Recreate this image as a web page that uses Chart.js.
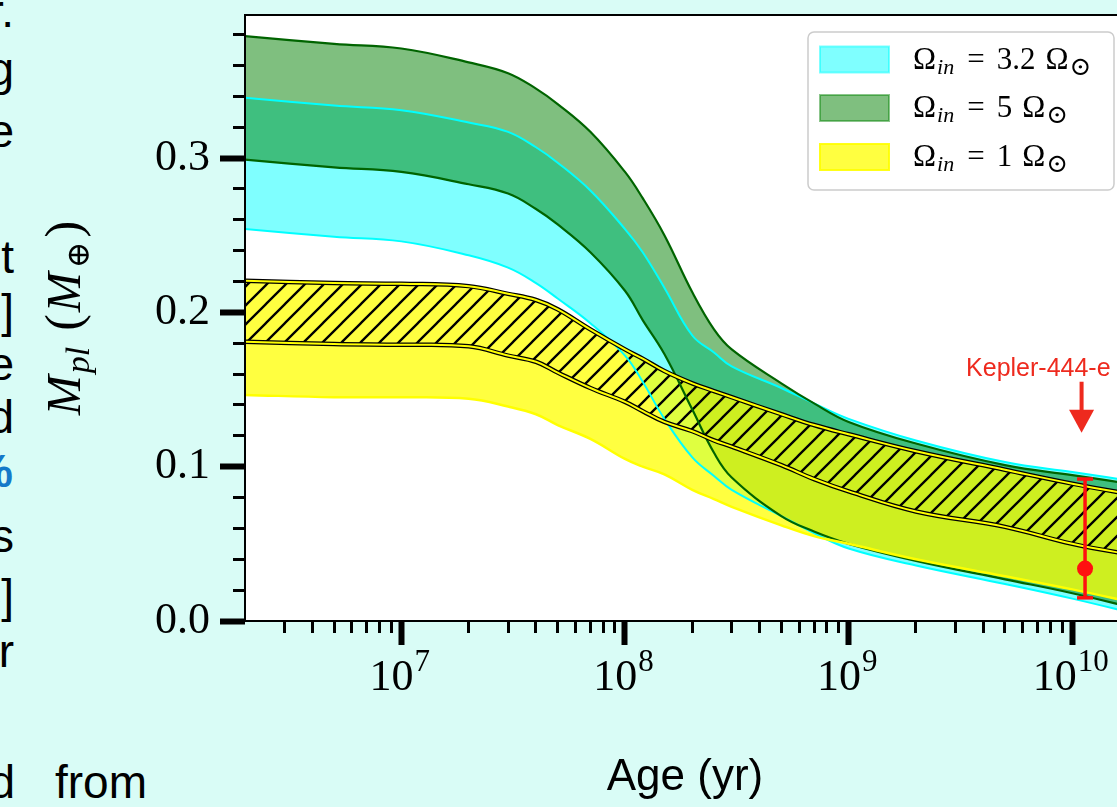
<!DOCTYPE html>
<html>
<head>
<meta charset="utf-8">
<script src="https://cdn.jsdelivr.net/npm/chart.js@4.4.1/dist/chart.umd.min.js"></script>
<style>
  html, body { margin: 0; padding: 0; background: #d9fcf6; overflow: hidden; width: 1117px; height: 807px; }
  #moldura { position: absolute; left: 0; top: 0; width: 1180px; height: 807px; }
  .frag { position: absolute; font-family: "Liberation Sans", Arial, sans-serif; font-size: 46px; line-height: 46px; white-space: pre; color: #000; transform: translateX(-100%); }
  .azul { color: #1479c9; font-weight: bold; }
</style>
</head>
<body>
<div class="frag" style="left:14px; top:-12px">r.</div>
<div class="frag" style="left:14px; top:46px">g</div>
<div class="frag" style="left:14px; top:108px">e</div>
<div class="frag" style="left:14px; top:234px">t</div>
<div class="frag" style="left:14px; top:288px">5]</div>
<div class="frag" style="left:14px; top:341px">e</div>
<div class="frag" style="left:14px; top:394px">d</div>
<div class="frag azul" style="left:13px; top:448px">%</div>
<div class="frag" style="left:14px; top:513px">s</div>
<div class="frag" style="left:14px; top:573px">5]</div>
<div class="frag" style="left:14px; top:628px">r</div>
<div class="frag" style="left:15px; top:759px">d</div>
<div class="frag" style="left:55px; top:759px; transform:none">from</div>

<div id="moldura"><canvas id="chartMassa" width="1180" height="807"></canvas></div>

<script>
// ============================
// DADOS
// ============================

// idades (anos) onde as curvas foram lidas
var idades = [2e6, 5e6, 1e7, 2e7, 3e7, 4e7, 5e7, 7e7, 1e8, 1.2e8, 1.5e8, 2e8, 2.5e8, 3e8, 5e8, 7e8, 1e9, 2e9, 5e9, 1e10, 2e10];

// Omega_in = 3.2 (ciano)
var cianoSup = [0.339, 0.334, 0.331, 0.323, 0.317, 0.307, 0.297, 0.279, 0.254, 0.239, 0.216, 0.185, 0.174, 0.165, 0.151, 0.141, 0.131, 0.117, 0.103, 0.0965, 0.090];
var cianoInf = [0.254, 0.249, 0.246, 0.237, 0.229, 0.219, 0.209, 0.193, 0.172, 0.155, 0.131, 0.106, 0.094, 0.085, 0.068, 0.057, 0.047, 0.036, 0.024, 0.0145, 0.004];

// Omega_in = 5 (verde)
var verdeSup = [0.379, 0.374, 0.371, 0.362, 0.355, 0.345, 0.335, 0.317, 0.291, 0.274, 0.250, 0.213, 0.189, 0.176, 0.154, 0.141, 0.129, 0.115, 0.101, 0.0945, 0.088];
var verdeInf = [0.299, 0.294, 0.291, 0.283, 0.277, 0.267, 0.257, 0.239, 0.214, 0.195, 0.173, 0.137, 0.109, 0.093, 0.068, 0.058, 0.050, 0.039, 0.027, 0.018, 0.0075];

// Omega_in = 1 (amarelo) e faixa hachurada
var amareloSup = [0.2205, 0.219, 0.2185, 0.217, 0.212, 0.208, 0.202, 0.189, 0.176, 0.170, 0.162, 0.154, 0.149, 0.145, 0.134, 0.127, 0.121, 0.110, 0.098, 0.089, 0.081];
var hachuraInf = [0.181, 0.1795, 0.179, 0.178, 0.172, 0.168, 0.161, 0.151, 0.142, 0.136, 0.129, 0.123, 0.117, 0.113, 0.101, 0.092, 0.084, 0.071, 0.061, 0.050, 0.042];
var amareloInf = [0.1465, 0.145, 0.145, 0.144, 0.139, 0.134, 0.127, 0.118, 0.105, 0.100, 0.095, 0.085, 0.079, 0.074, 0.062, 0.055, 0.050, 0.040, 0.029, 0.0205, 0.011];

// Kepler-444-e
var kepIdade = [1.14e10];
var kepMassa = [0.034];
var kepErroInf = [0.015];
var kepErroSup = [0.092];
var kepSeta = { idade: 1.1e10, massa: 0.122, rotulo: 'Kepler-444-e' };

// eixos
var xMin = 2e6, xMax = 1.72e10;
var yMin = 0, yMax = 0.3927;
var xTicksMaiores = [1e7, 1e8, 1e9, 1e10];
var xExpoentes = ['7', '8', '9', '10'];
var yTicksMaiores = [0, 0.1, 0.2, 0.3];
var yRotulos = ['0.0', '0.1', '0.2', '0.3'];
var legendaValores = ['3.2', '5', '1'];

document.addEventListener('DOMContentLoaded', function () {

    var ctxMassa = document.getElementById('chartMassa');
    var ctx2d = ctxMassa.getContext('2d');

    // ticks menores (2..9 x 10^n)
    var xTicksMenores = [];
    for (var d = 6; d <= 10; d++) {
        for (var m = 2; m <= 9; m++) {
            var v = m * Math.pow(10, d);
            if (v > xMin && v < xMax) xTicksMenores.push(v);
        }
    }
    var yTicksMenores = [];
    for (var k = 1; k < 20; k++) {
        if (k % 5 !== 0) yTicksMenores.push(k * 0.02);
    }

    function serie(valores) {
        return idades.map(function (a, i) { return { x: a, y: valores[i] }; });
    }

    // hachura "//"
    function criaHachura() {
        var tam = 19;
        var c = document.createElement('canvas');
        c.width = tam; c.height = tam;
        var g = c.getContext('2d');
        g.strokeStyle = '#000';
        g.lineWidth = 2.3;
        g.beginPath();
        g.moveTo(0, tam); g.lineTo(tam, 0);
        g.moveTo(-tam / 2, tam / 2); g.lineTo(tam / 2, -tam / 2);
        g.moveTo(tam / 2, tam * 1.5); g.lineTo(tam * 1.5, tam / 2);
        g.stroke();
        return ctx2d.createPattern(c, 'repeat');
    }

    function linha(valores, cor, largura, ordem, preenche, fundo) {
        return {
            data: serie(valores),
            borderColor: cor,
            borderWidth: largura,
            backgroundColor: fundo || 'transparent',
            fill: preenche ? '+1' : false,
            pointRadius: 0,
            tension: 0.4,
            order: ordem
        };
    }

    function desenhaSequencia(ctx, x, y, partes) {
        partes.forEach(function (p) {
            x += (p.dx || 0);
            ctx.font = p.f;
            ctx.fillText(p.t, x, y + (p.dy || 0));
            x += ctx.measureText(p.t).width;
        });
        return x;
    }

    function larguraSequencia(ctx, partes) {
        var w = 0;
        partes.forEach(function (p) {
            ctx.font = p.f;
            w += (p.dx || 0) + ctx.measureText(p.t).width;
        });
        return w;
    }

    // ============================
    // PLUGIN - fundo, moldura, textos
    // ============================
    var pluginExtras = {
        id: 'extras',
        beforeDraw: function (chart) {
            var a = chart.chartArea, c = chart.ctx;
            c.save();
            c.fillStyle = '#ffffff';
            c.fillRect(a.left, a.top, a.right - a.left, a.bottom - a.top);
            c.restore();
        },
        afterDatasetsDraw: function (chart) {
            var a = chart.chartArea, c = chart.ctx;
            c.save();
            c.strokeStyle = '#000';
            c.lineWidth = 2;
            c.strokeRect(a.left, a.top, a.right - a.left, a.bottom - a.top);
            c.restore();
        },
        afterDraw: function (chart) {
            var c = chart.ctx;
            var ex = chart.scales.x, ey = chart.scales.y;
            c.save();
            c.fillStyle = '#000';
            c.textBaseline = 'alphabetic';

            // rótulos do eixo x (10^n)
            xTicksMaiores.forEach(function (v, i) {
                var px = ex.getPixelForValue(v);
                c.font = '44px "Liberation Serif"';
                var wb = c.measureText('10').width;
                c.font = '31px "Liberation Serif"';
                var we = c.measureText(xExpoentes[i]).width;
                var x0 = px - (wb + we) / 2 - 2;
                c.font = '44px "Liberation Serif"';
                c.fillText('10', x0, 690);
                c.font = '31px "Liberation Serif"';
                c.fillText(xExpoentes[i], x0 + wb + 1, 671);
            });

            // título do eixo y
            var partesY = [
                { t: 'M', f: 'italic 48px "Liberation Serif"' },
                { t: 'pl', f: 'italic 34px "Liberation Serif"', dy: 9, dx: 2 },
                { t: '(', f: '50px "Liberation Serif"', dx: 16 },
                { t: 'M', f: 'italic 48px "Liberation Serif"', dx: 2 },
                { t: '\u2295', f: '32px "DejaVu Serif"', dy: 9, dx: 4 },
                { t: ')', f: '50px "Liberation Serif"', dx: 4 }
            ];
            var meioY = (chart.chartArea.top + chart.chartArea.bottom) / 2;
            c.save();
            c.translate(80, meioY);
            c.rotate(-Math.PI / 2);
            var wt = larguraSequencia(c, partesY);
            desenhaSequencia(c, -wt / 2, 0, partesY);
            c.restore();

            // legenda
            var lx = 808, ly = 32, lw = 306, lh = 158;
            c.beginPath();
            c.roundRect(lx, ly, lw, lh, 6);
            c.fillStyle = 'rgba(255,255,255,0.85)';
            c.fill();
            c.strokeStyle = '#cccccc';
            c.lineWidth = 1.5;
            c.stroke();
            var patches = [
                { fundo: 'rgba(0,255,255,0.5)', borda: 'rgba(0,255,255,0.5)' },
                { fundo: 'rgba(0,128,0,0.5)', borda: 'rgba(0,128,0,0.45)' },
                { fundo: 'rgba(255,255,0,0.75)', borda: 'rgba(255,255,0,0.9)' }
            ];
            var centros = [59.5, 108, 157];
            legendaValores.forEach(function (val, i) {
                var cy = centros[i];
                c.fillStyle = patches[i].fundo;
                c.fillRect(820, cy - 13, 69, 26);
                c.strokeStyle = patches[i].borda;
                c.lineWidth = 2;
                c.strokeRect(820, cy - 13, 69, 26);
                c.fillStyle = '#000';
                desenhaSequencia(c, 913, cy + 9, [
                    { t: '\u03A9', f: '31px "Liberation Serif"' },
                    { t: 'in', f: 'italic 22px "Liberation Serif"', dy: 5, dx: 1 },
                    { t: '=', f: '31px "Liberation Serif"', dx: 13 },
                    { t: val, f: '31px "Liberation Serif"', dx: 12 },
                    { t: '\u03A9', f: '31px "Liberation Serif"', dx: 10 },
                    { t: '\u2299', f: '26px "DejaVu Serif"', dy: 6, dx: 1 }
                ]);
            });

            // seta e rótulo Kepler-444-e
            var sx = ex.getPixelForValue(kepSeta.idade);
            var sy = ey.getPixelForValue(kepSeta.massa);
            c.fillStyle = '#ee2a1e';
            c.fillRect(sx - 2, sy - 51, 4, 29);
            c.beginPath();
            c.moveTo(sx - 12.5, sy - 23);
            c.lineTo(sx + 12.5, sy - 23);
            c.lineTo(sx, sy);
            c.closePath();
            c.fill();
            c.font = '25px "Liberation Sans"';
            c.textAlign = 'right';
            c.fillText(kepSeta.rotulo, sx + 29, sy - 57);
            c.restore();
        }
    };

    var graficoMassa = new Chart(ctxMassa, {
        type: 'line',
        data: {
            datasets: [
                linha(cianoSup, '#00ffff', 2, 10, true, 'rgba(0,255,255,0.5)'),
                linha(cianoInf, '#00ffff', 2, 10, false),
                linha(verdeSup, '#006400', 2.2, 9, true, 'rgba(0,128,0,0.5)'),
                linha(verdeInf, '#006400', 2.2, 9, false),
                linha(amareloSup, '#ffff00', 0, 8, true, 'rgba(255,255,0,0.75)'),
                linha(amareloInf, '#ffff00', 2.5, 8, false),
                linha(amareloSup, '#000000', 4.5, 7, true, criaHachura()),
                linha(hachuraInf, '#000000', 4.5, 7, false),
                linha(amareloSup, '#ffff00', 2, 6, false),
                linha(hachuraInf, '#ffff00', 2, 6, false),
                {
                    data: [{ x: kepIdade[0], y: kepErroInf[0] }, { x: kepIdade[0], y: kepErroSup[0] }],
                    borderColor: '#ff1010',
                    borderWidth: 3.5,
                    pointStyle: 'line',
                    pointRadius: 8,
                    pointBorderColor: '#ff1010',
                    pointBorderWidth: 3.5,
                    fill: false,
                    order: 2
                },
                {
                    data: kepIdade.map(function (a, i) { return { x: a, y: kepMassa[i] }; }),
                    showLine: false,
                    pointRadius: 8,
                    pointBackgroundColor: '#ff1010',
                    pointBorderWidth: 0,
                    fill: false,
                    order: 1
                }
            ]
        },
        options: {
            responsive: false,
            animation: false,
            devicePixelRatio: 1,
            layout: { padding: { top: 15, right: 55, bottom: 0, left: 0 } },
            plugins: {
                legend: { display: false },
                tooltip: { enabled: false },
                filler: { drawTime: 'beforeDatasetsDraw' }
            },
            scales: {
                x: {
                    type: 'logarithmic', axis: 'x', position: 'bottom', weight: 1,
                    min: xMin, max: xMax,
                    afterBuildTicks: function (s) { s.ticks = xTicksMaiores.map(function (v) { return { value: v }; }); },
                    afterFit: function (s) { s.height = 186; s.paddingLeft = 0; s.paddingRight = 0; },
                    ticks: { display: false },
                    grid: { drawOnChartArea: false, tickLength: 24, tickWidth: 6, tickColor: '#000' },
                    border: { display: false },
                    title: {
                        display: true, text: 'Age (yr)', color: '#000',
                        font: { family: 'Liberation Sans', size: 44 },
                        padding: { top: 0, bottom: 3 }
                    }
                },
                xMenor: {
                    type: 'logarithmic', axis: 'x', position: 'bottom', weight: 0,
                    min: xMin, max: xMax,
                    afterBuildTicks: function (s) { s.ticks = xTicksMenores.map(function (v) { return { value: v }; }); },
                    afterFit: function (s) { s.height = 0; s.paddingLeft = 0; s.paddingRight = 0; },
                    ticks: { display: false },
                    grid: { drawOnChartArea: false, tickLength: 12, tickWidth: 3, tickColor: '#000' },
                    border: { display: false }
                },
                y: {
                    type: 'linear', axis: 'y', position: 'left', weight: 1,
                    min: yMin, max: yMax,
                    afterBuildTicks: function (s) { s.ticks = yTicksMaiores.map(function (v) { return { value: v }; }); },
                    afterFit: function (s) { s.width = 245; s.paddingTop = 0; s.paddingBottom = 0; },
                    ticks: {
                        color: '#000', padding: 10,
                        font: { family: 'Liberation Serif', size: 44 },
                        callback: function (v, i) { return yRotulos[i]; }
                    },
                    grid: { drawOnChartArea: false, tickLength: 25, tickWidth: 6, tickColor: '#000' },
                    border: { display: false }
                },
                yMenor: {
                    type: 'linear', axis: 'y', position: 'left', weight: 0,
                    min: yMin, max: yMax,
                    afterBuildTicks: function (s) { s.ticks = yTicksMenores.map(function (v) { return { value: v }; }); },
                    afterFit: function (s) { s.width = 0; s.paddingTop = 0; s.paddingBottom = 0; },
                    ticks: { display: false },
                    grid: { drawOnChartArea: false, tickLength: 12, tickWidth: 3, tickColor: '#000' },
                    border: { display: false }
                }
            }
        },
        plugins: [pluginExtras]
    });
});
</script>
</body>
</html>
